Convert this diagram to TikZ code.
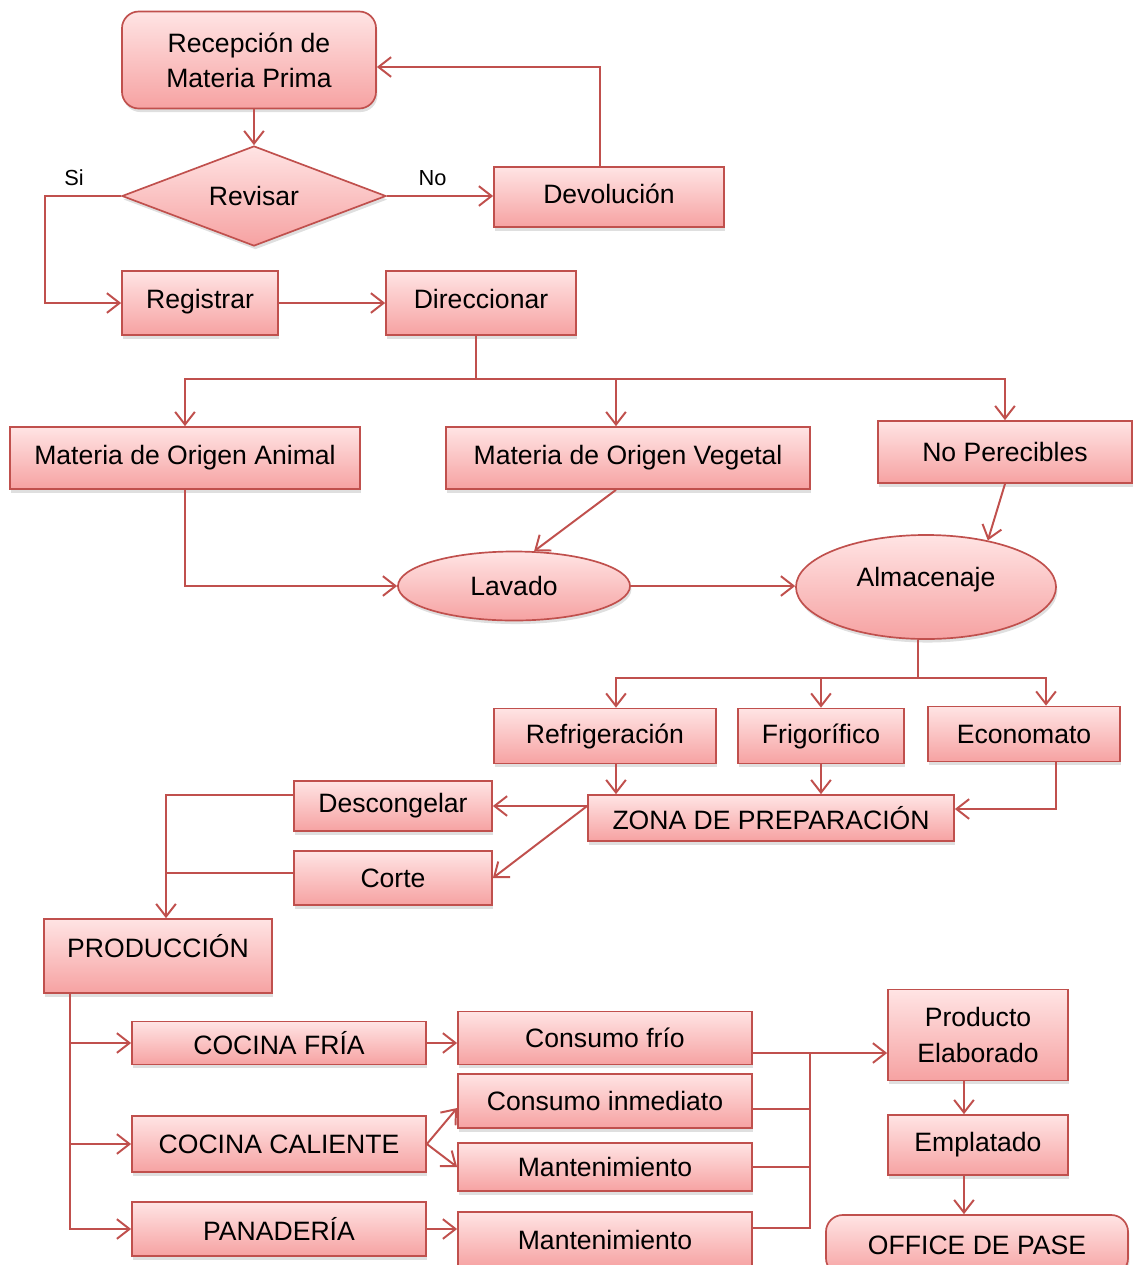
\documentclass[tikz,border=0pt]{standalone}
\usepackage{fontspec}
\setmainfont{Liberation Sans}
\usetikzlibrary{arrows.meta,shapes.geometric,shadows,positioning}

\definecolor{borde}{HTML}{C0504D}
\definecolor{rosaclaro}{HTML}{FFE4E4}
\definecolor{rosa}{HTML}{F6A2A2}

\begin{document}
\begin{tikzpicture}
	[x=0.025cm, y=-0.025cm, font=\fontsize{18.9}{25}\selectfont,
	box/.style		= {rectangle, draw=borde, line width=1.2pt, top color=rosaclaro, bottom color=rosa, inner sep=0pt, align=center,
						drop shadow={opacity=0.25, shadow xshift=1pt, shadow yshift=-2.5pt}},
	rbox/.style		= {box, rounded corners=12pt},
	decision/.style	= {box, diamond, aspect=2.6},
	oval/.style		= {box, ellipse},
	raised/.style	= {text depth=#1},
	paths/.style	= {-{Straight Barb[length=9pt,width=14pt]}, draw=borde, line width=1.4pt},
	link/.style		= {draw=borde, line width=1.4pt},
	tag/.style		= {font=\fontsize{15.5}{18}\selectfont}]
	
	\useasboundingbox (0,0) rectangle (1134,1265);
	
	\node at (249, 60)		[rbox, minimum width=6.35cm, minimum height=2.425cm]	(recepcion)		{Recepción de\\Materia Prima};
	\node at (254, 196)		[decision, minimum width=6.6cm, minimum height=2.5cm]	(revisar)		{Revisar};
	\node at (609, 197)		[box, raised=0.15cm, minimum width=5.75cm, minimum height=1.5cm]		(devolucion)	{Devolución};
	\node at (200, 303)		[box, raised=0.2cm, minimum width=3.9cm, minimum height=1.6cm]		(registrar)		{Registrar};
	\node at (481, 303)		[box, raised=0.2cm, minimum width=4.75cm, minimum height=1.6cm]		(direccionar)	{Direccionar};
	
	\node at (185, 458)		[box, minimum width=8.75cm, minimum height=1.55cm]		(animal)		{Materia de Origen Animal};
	\node at (628, 458)		[box, minimum width=9.1cm, minimum height=1.55cm]		(vegetal)		{Materia de Origen Vegetal};
	\node at (1005, 452)	[box, minimum width=6.35cm, minimum height=1.55cm]		(noperecibles)	{No Perecibles};
	\node at (514, 586)		[oval, minimum width=5.8cm, minimum height=1.725cm]		(lavado)		{Lavado};
	\node at (926, 587)		[oval, raised=0.5cm, minimum width=6.5cm, minimum height=2.6cm]	(almacenaje)	{Almacenaje};
	
	\node at (605, 736)		[box, minimum width=5.55cm, minimum height=1.375cm]		(refrigeracion)	{Refrigeración};
	\node at (821, 736)		[box, minimum width=4.15cm, minimum height=1.375cm]		(frigorifico)	{Frigorífico};
	\node at (1024, 734)	[box, minimum width=4.8cm, minimum height=1.375cm]		(economato)		{Economato};
	\node at (771, 818)		[box, minimum width=9.15cm, minimum height=1.15cm]		(zona)			{ZONA DE PREPARACIÓN};
	\node at (393, 806)		[box, minimum width=4.95cm, minimum height=1.25cm]		(descongelar)	{Descongelar};
	\node at (393, 878)		[box, minimum width=4.95cm, minimum height=1.35cm]		(corte)			{Corte};
	\node at (158, 956)		[box, raised=0.5cm, minimum width=5.7cm, minimum height=1.85cm]	(produccion)	{PRODUCCIÓN};
	
	\node at (279, 1043)	[box, minimum width=7.35cm, minimum height=1.075cm]		(fria)			{COCINA FRÍA};
	\node at (279, 1144)	[box, minimum width=7.35cm, minimum height=1.4cm]		(caliente)		{COCINA CALIENTE};
	\node at (279, 1229)	[box, minimum width=7.35cm, minimum height=1.35cm]		(panaderia)		{PANADERÍA};
	\node at (605, 1038)	[box, minimum width=7.35cm, minimum height=1.325cm]		(consfrio)		{Consumo frío};
	\node at (605, 1101)	[box, minimum width=7.35cm, minimum height=1.35cm]		(consinmed)		{Consumo inmediato};
	\node at (605, 1167)	[box, minimum width=7.35cm, minimum height=1.2cm]		(mantcal)		{Mantenimiento};
	\node at (605, 1240)	[box, minimum width=7.35cm, minimum height=1.4cm]		(mantpan)		{Mantenimiento};
	\node at (978, 1035)	[box, minimum width=4.5cm, minimum height=2.275cm]		(elaborado)		{Producto\\Elaborado};
	\node at (978, 1145)	[box, minimum width=4.5cm, minimum height=1.5cm]		(emplatado)		{Emplatado};
	\node at (977, 1245)	[rbox, minimum width=7.55cm, minimum height=1.5cm]		(office)		{OFFICE DE PASE};
	
	\coordinate (ramal1) at (476, 379);
	\coordinate (ramal2) at (918, 678);
	\coordinate (junta) at (810, 1053);
	
	% recepcion y control
	\draw [paths] (revisar.north |- recepcion.south) -- (revisar.north);
	\draw [paths] (revisar.east) -- (revisar.east -| devolucion.west) node[tag, pos=0.43, above=3pt] {No};
	\draw [paths] ([xshift=-0.225cm]devolucion.north) |- ([yshift=-0.175cm]recepcion.east);
	\draw [paths] (revisar.west) -- ++(-76, 0) node[tag, pos=0.62, above=3pt] {Si} |- (registrar.west);
	\draw [paths] (registrar.east) -- (registrar.east -| direccionar.west);
	
	\draw [link] (direccionar.south -| ramal1) -- (ramal1);
	\draw [paths] (ramal1) -| (animal.north);
	\draw [paths] (ramal1) -| (noperecibles.north);
	\draw [paths] ([xshift=-0.3cm]vegetal.north |- ramal1) -- ([xshift=-0.3cm]vegetal.north);
	
	\draw [paths] ([xshift=-0.3cm]vegetal.south) -- (lavado.60);
	\draw [paths] (animal.south) |- (lavado.west);
	\draw [paths] (lavado.east) -- (lavado.east -| almacenaje.west);
	\draw [paths] (noperecibles.south) -- (almacenaje.37);
	
	% almacenaje
	\draw [link] (almacenaje.south -| ramal2) -- (ramal2);
	\draw [paths] (ramal2) -| ([xshift=0.275cm]refrigeracion.north);
	\draw [paths] (ramal2) -| (frigorifico.north);
	\draw [paths] (ramal2) -| ([xshift=0.55cm]economato.north);
	\draw [paths] ([xshift=0.275cm]refrigeracion.south) -- ([xshift=0.275cm]refrigeracion.south |- zona.north);
	\draw [paths] (frigorifico.south) -- (frigorifico.south |- zona.north);
	\draw [paths] ([xshift=0.8cm]economato.south) |- ([yshift=0.225cm]zona.east);
	
	% preparacion
	\draw [paths] (zona.west |- descongelar.east) -- (descongelar.east);
	\draw [paths] (zona.west |- descongelar.east) -- (corte.east);
	\draw [paths] ([yshift=0.275cm]descongelar.west) -| ([xshift=0.2cm]produccion.north);
	\draw [link] ([yshift=0.125cm]corte.west) -- ++(-128, 0);
	
	% produccion
	\draw [paths] ([xshift=-2.2cm]produccion.south) |- (fria.west);
	\draw [paths] ([xshift=-2.2cm]produccion.south) |- (caliente.west);
	\draw [paths] ([xshift=-2.2cm]produccion.south) |- (panaderia.west);
	\draw [paths] (fria.east) -- (fria.east -| consfrio.west);
	\draw [paths] (caliente.east) -- ([yshift=-0.175cm]consinmed.west);
	\draw [paths] (caliente.east) -- (mantcal.west);
	\draw [paths] (panaderia.east) -- (panaderia.east -| mantpan.west);
	
	\draw [paths] ([yshift=-0.375cm]consfrio.east) -- ([yshift=-0.375cm]consfrio.east -| elaborado.west);
	\draw [link] ([yshift=-0.2cm]consinmed.east) -- ++(58, 0);
	\draw [link] (mantcal.east) -- ++(58, 0);
	\draw [link] ([yshift=0.3cm]mantpan.east) -| (junta);
	
	\draw [paths] ([xshift=-0.35cm]elaborado.south) -- ([xshift=-0.35cm]elaborado.south |- emplatado.north);
	\draw [paths] ([xshift=-0.35cm]emplatado.south) -- ([xshift=-0.35cm]emplatado.south |- office.north);
	
\end{tikzpicture}
\end{document}
